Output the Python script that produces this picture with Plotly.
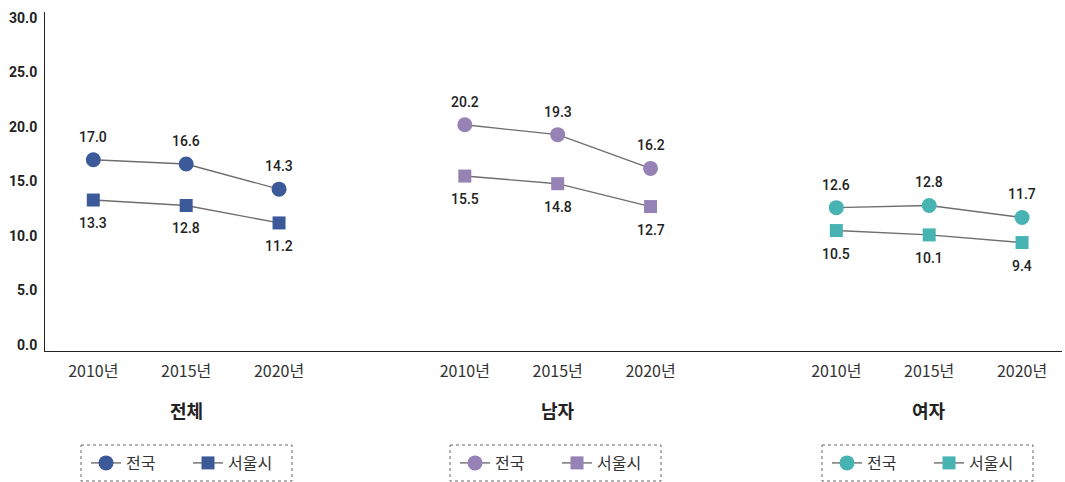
import plotly.graph_objects as go

# Categories
years = ["2010년", "2015년", "2020년"]
groups = ["전체", "남자", "여자"]

# Series values (rate per group, 2010/2015/2020)
national_total = [17.0, 16.6, 14.3]
national_male = [20.2, 19.3, 16.2]
national_female = [12.6, 12.8, 11.7]

seoul_total = [13.3, 12.8, 11.2]
seoul_male = [15.5, 14.8, 12.7]
seoul_female = [10.5, 10.1, 9.4]

y_ticks = [0, 5, 10, 15, 20, 25, 30]

national = [national_total, national_male, national_female]
seoul = [seoul_total, seoul_male, seoul_female]
group_colors = ["#3c5a9a", "#9682b4", "#48b3b3"]
legend_ids = ["legend", "legend2", "legend3"]

FONT = "Roboto, 'Noto Sans CJK KR', sans-serif"
KFONT = "'Noto Sans CJK KR', Roboto, sans-serif"
LINE = "#6e6e6e"
GAP = 4  # slot spacing between groups (3 years + 1 empty slot)
LABEL_FONT = dict(family=FONT, size=14, color="#222222", weight=500)

fig = go.Figure()
xs_all, xt_all = [], []
for g, name in enumerate(groups):
    xs = [g * GAP + i for i in range(len(years))]
    xs_all += xs
    xt_all += years
    fig.add_trace(go.Scatter(
        x=xs, y=national[g], mode="lines+markers", name="전국",
        legend=legend_ids[g],
        line=dict(color=LINE, width=1.4),
        marker=dict(symbol="circle", size=15, color=group_colors[g]),
        cliponaxis=False,
    ))
    fig.add_trace(go.Scatter(
        x=xs, y=seoul[g], mode="lines+markers", name="서울시",
        legend=legend_ids[g],
        line=dict(color=LINE, width=1.4),
        marker=dict(symbol="square", size=13, color=group_colors[g]),
        cliponaxis=False,
    ))
    # value labels: national above, Seoul below
    for x, v in zip(xs, national[g]):
        fig.add_annotation(x=x, y=v, text=f"{v:.1f}", showarrow=False,
                           yshift=23, font=LABEL_FONT)
    for x, v in zip(xs, seoul[g]):
        fig.add_annotation(x=x, y=v, text=f"{v:.1f}", showarrow=False,
                           yshift=-23, font=LABEL_FONT)
    # group title under the year labels
    fig.add_annotation(
        x=g * GAP + 1, y=0, xref="x", yref="paper", yanchor="middle",
        yshift=-59, text=f"<b>{name}</b>", showarrow=False,
        font=dict(family=KFONT, size=18, color="#222222"),
    )

# legend boxes (dotted frames), one per group
L, R, T, B = 45, 1062, 12, 351
W, H = R - L, B - T
def px(x):
    return (x - L) / W
def py(y):
    return (B - y) / H

box_lefts = [81, 450, 822]
box_w = 211
for g in range(3):
    fig.add_shape(
        type="rect", xref="paper", yref="paper",
        x0=px(box_lefts[g]), x1=px(box_lefts[g] + box_w),
        y0=py(445), y1=py(481),
        line=dict(color="#666666", width=1, dash="dot"),
        fillcolor="rgba(0,0,0,0)",
    )

legend_common = dict(
    orientation="h", yanchor="middle", xanchor="left",
    font=dict(family=KFONT, size=16, color="#333333"),
    bgcolor="rgba(0,0,0,0)", borderwidth=0,
    entrywidth=57, entrywidthmode="pixels",
    itemclick=False, itemdoubleclick=False,
)
layout_legends = {}
for g, lid in enumerate(legend_ids):
    layout_legends[lid] = dict(legend_common, x=px(box_lefts[g] + 5), y=py(463))

fig.update_layout(
    width=1065, height=482,
    margin=dict(l=L, r=1065 - R, t=T, b=482 - B, autoexpand=False),
    plot_bgcolor="white", paper_bgcolor="white",
    showlegend=True,
    xaxis=dict(
        range=[-0.52, 10.43], tickvals=xs_all, ticktext=xt_all,
        showgrid=False, zeroline=False, showline=True,
        linecolor="#222222", linewidth=1, ticks="",
        tickfont=dict(family=KFONT, size=16, color="#333333"),
        ticklabelstandoff=6,
    ),
    yaxis=dict(
        range=[-0.55, 30.55], tickvals=y_ticks,
        ticktext=[f"{v:.1f}" for v in y_ticks],
        showgrid=False, zeroline=False, showline=True,
        linecolor="#222222", linewidth=1, ticks="",
        tickfont=dict(family=FONT, size=14, color="#222222", weight="bold"),
        ticklabelstandoff=4,
    ),
    **layout_legends,
)

fig.write_html("out.html")
